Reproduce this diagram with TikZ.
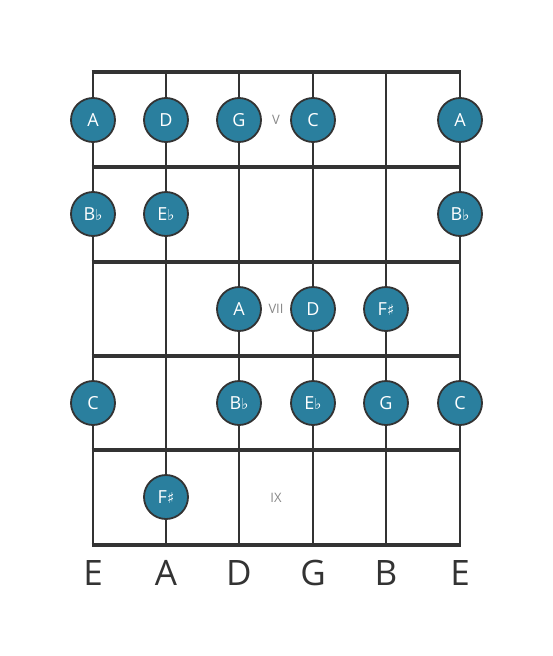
\documentclass[tikz,border=0pt]{standalone}
\usepackage{fontspec}
\setmainfont{Open Sans}
\newfontfamily\symfont{DejaVu Sans}
\definecolor{notefill}{HTML}{2A7F9E}
\definecolor{linecol}{HTML}{333333}
\definecolor{labgray}{HTML}{888888}
\begin{document}
\begin{tikzpicture}[x=1pt,y=-1pt,
  stringline/.style={draw=linecol,line width=2.6pt},
  fretline/.style={draw=linecol,line width=4pt},
  note/.style={circle,draw=linecol,line width=1.8pt,fill=notefill,minimum size=44pt,inner sep=0pt,text=white,font=\fontsize{18}{18}\selectfont},
  fretlab/.style={text=labgray,font=\fontsize{13}{13}\selectfont},
  strlab/.style={text=linecol,font=\fontsize{35}{35}\selectfont}]
\useasboundingbox (0,0) rectangle (553,656);
\def\fl{\symfont\fontsize{15}{15}\selectfont\char"266D}
\def\sh{\symfont\fontsize{15}{15}\selectfont\char"266F}
% strings
\foreach \x [count=\i] in {93,166,239,313,386,460} {
  \coordinate (st\i) at (\x,72);
  \coordinate (sb\i) at (\x,545);
  \draw[stringline] (st\i) -- (sb\i);
}
% frets
\foreach \y [count=\j] in {72,167,262,356,450,545} {
  \coordinate (fl\j) at (91.7,\y);
  \coordinate (fr\j) at (461.3,\y);
  \draw[fretline] (fl\j) -- (fr\j);
}
% fret labels
\node[fretlab] (fV) at (276,120) {V};
\node[fretlab] (fVII) at (276,309) {VII};
\node[fretlab] (fIX) at (276,498) {IX};
% notes row 1
\node[note] (n11) at (93,120) {A};
\node[note] (n12) at (166,120) {D};
\node[note] (n13) at (239,120) {G};
\node[note] (n14) at (313,120) {C};
\node[note] (n16) at (460,120) {A};
% row 2
\node[note] (n21) at (93,214) {B\fl};
\node[note] (n22) at (166,214) {E\fl};
\node[note] (n26) at (460,214) {B\fl};
% row 3
\node[note] (n33) at (239,309) {A};
\node[note] (n34) at (313,309) {D};
\node[note] (n35) at (386,309) {F\sh};
% row 4
\node[note] (n41) at (93,403) {C};
\node[note] (n43) at (239,403) {B\fl};
\node[note] (n44) at (313,403) {E\fl};
\node[note] (n45) at (386,403) {G};
\node[note] (n46) at (460,403) {C};
% row 5
\node[note] (n52) at (166,497) {F\sh};
% string labels
\foreach \x/\t [count=\i] in {93/E,166/A,239/D,313/G,386/B,460/E}
  \node[strlab] (sl\i) at (\x,573) {\t};
\end{tikzpicture}
\end{document}
